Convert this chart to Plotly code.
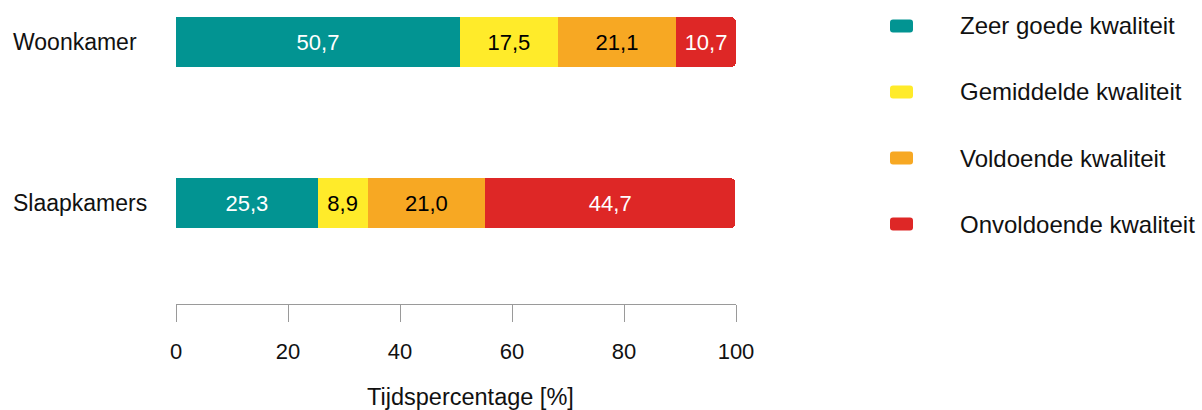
import plotly.graph_objects as go

categories = ["Woonkamer", "Slaapkamers"]
series_names = ["Zeer goede kwaliteit", "Gemiddelde kwaliteit", "Voldoende kwaliteit", "Onvoldoende kwaliteit"]
zeer_goed = [50.7, 25.3]
gemiddeld = [17.5, 8.9]
voldoende = [21.1, 21.0]
onvoldoende = [10.7, 44.7]
x_ticks = [0, 20, 40, 60, 80, 100]
x_title = "Tijdspercentage [%]"

series_values = [zeer_goed, gemiddeld, voldoende, onvoldoende]
colors = ["#029492", "#FFEB2A", "#F7A823", "#DE2726"]
text_colors = ["white", "black", "black", "white"]

FONT = "Liberation Sans, Arial, sans-serif"
W, H = 1202, 410
ML, MR, MT, MB = 176, 466, 0, 106
PW = W - ML - MR
PH = H - MT - MB

fig = go.Figure()
for name, vals, col, tc in zip(series_names, series_values, colors, text_colors):
    fig.add_trace(go.Bar(
        y=categories, x=vals, name=name, orientation="h",
        marker=dict(color=col, line=dict(width=0)),
        texttemplate="%{x:.1f}", textposition="inside", insidetextanchor="middle",
        textfont=dict(color=tc, size=22, family=FONT),
        width=0.31, showlegend=False, hoverinfo="skip",
    ))

# category labels (left aligned)
for c in categories:
    fig.add_annotation(text=c, x=(11 - ML) / PW, xref="paper", y=c, yref="y",
                       xanchor="left", yanchor="middle", showarrow=False,
                       font=dict(size=23, color="#111", family=FONT))

# custom legend with rounded markers
hw, hh, r = 11.5, 6.5, 3
rr = (f"M{-hw + r},{-hh} L{hw - r},{-hh} Q{hw},{-hh} {hw},{-hh + r} "
      f"L{hw},{hh - r} Q{hw},{hh} {hw - r},{hh} L{-hw + r},{hh} "
      f"Q{-hw},{hh} {-hw},{hh - r} L{-hw},{-hh + r} Q{-hw},{-hh} {-hw + r},{-hh} Z")
for i, (name, col) in enumerate(zip(series_names, colors)):
    yc = 26 + i * 66
    fig.add_shape(type="path", xref="paper", yref="paper",
                  xsizemode="pixel", ysizemode="pixel",
                  xanchor=(901.5 - ML) / PW, yanchor=1 - yc / PH,
                  path=rr, fillcolor=col, line=dict(width=0), layer="above")
    fig.add_annotation(text=name, xref="paper", yref="paper",
                       x=(958 - ML) / PW, y=1 - yc / PH, xanchor="left", yanchor="middle",
                       showarrow=False, font=dict(size=24, color="#111", family=FONT))

fig.add_annotation(text=x_title, xref="paper", yref="paper",
                   x=(470 - ML) / PW, y=1 - (397 - MT) / PH, xanchor="center", yanchor="middle",
                   showarrow=False, font=dict(size=23.5, color="#111", family=FONT))

fig.update_layout(
    width=W, height=H, margin=dict(l=ML, r=MR, t=MT, b=MB),
    barmode="stack", barcornerradius=5, separators=",.",
    plot_bgcolor="white", paper_bgcolor="white",
    font=dict(family=FONT, size=22, color="#111"),
    xaxis=dict(range=[0, 100], tickvals=x_ticks, showgrid=False, zeroline=False,
               showline=True, linecolor="#9a9a9a", linewidth=1,
               ticks="outside", ticklen=17, tickcolor="#9a9a9a", tickwidth=1,
               ticklabelstandoff=11, tickfont=dict(size=22, color="#111", family=FONT),
               fixedrange=True),
    yaxis=dict(categoryorder="array", categoryarray=categories[::-1],
               range=[-0.627, 1.261], showticklabels=False, showgrid=False,
               zeroline=False, showline=False, ticks="", fixedrange=True),
)

fig.write_html("out.html")
